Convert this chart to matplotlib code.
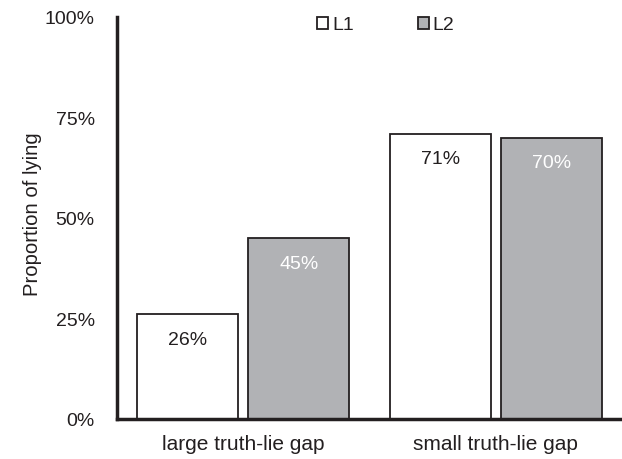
import matplotlib
matplotlib.use("Agg")
import matplotlib.pyplot as plt
import numpy as np

plt.rcParams['font.family'] = ['Liberation Sans', 'DejaVu Sans']

categories = ["large truth-lie gap", "small truth-lie gap"]
series_names = ["L1", "L2"]
l1_values = [26, 71]
l2_values = [45, 70]
yticks = [0, 25, 50, 75, 100]
ytick_labels = ["0%", "25%", "50%", "75%", "100%"]

edge = "#231f20"
gray = "#b1b2b5"
txt = "#231f20"
fs = 14

fig = plt.figure(figsize=(6.22, 4.60), dpi=100)
ax = fig.add_axes([117/622, 40/460, 505/622, 402/460])

x = np.arange(len(categories))
w = 0.40
gap = 0.04
b1 = ax.bar(x - (w + gap)/2, l1_values, w, color="white", edgecolor=edge, linewidth=1.3, label=series_names[0])
b2 = ax.bar(x + (w + gap)/2, l2_values, w, color=gray, edgecolor=edge, linewidth=1.3, label=series_names[1])

for rect, v in zip(b1, l1_values):
    ax.annotate(f"{v}%", (rect.get_x() + rect.get_width()/2, v), xytext=(0, -25),
                textcoords="offset pixels", ha="center", va="center", fontsize=fs, color=txt)
for rect, v in zip(b2, l2_values):
    ax.annotate(f"{v}%", (rect.get_x() + rect.get_width()/2, v), xytext=(0, -25),
                textcoords="offset pixels", ha="center", va="center", fontsize=fs, color="white")

ax.set_xlim(-0.5, 1.5)
ax.set_ylim(0, 100)
ax.set_yticks(yticks)
ax.set_yticklabels(ytick_labels, fontsize=fs, color=txt)
ax.set_xticks(x)
ax.set_xticklabels(categories, fontsize=15, color=txt)
ax.tick_params(axis="x", length=0, pad=11)
ax.tick_params(axis="y", length=0, pad=16)
ax.set_ylabel("Proportion of lying", fontsize=14.6, color=txt, labelpad=3)
ax.yaxis.set_label_coords(-0.149, 0.511)

for s in ["top", "right"]:
    ax.spines[s].set_visible(False)
for s in ["left", "bottom"]:
    ax.spines[s].set_linewidth(2.5)
    ax.spines[s].set_color(edge)

handles = [b1, b2]
leg = fig.legend(handles, series_names, loc="center left",
                 bbox_to_anchor=(317/622, (460-26)/460), bbox_transform=fig.transFigure,
                 ncol=2, frameon=False, fontsize=fs, borderpad=0, borderaxespad=0,
                 handlelength=0.57, handleheight=0.57, handletextpad=0.2,
                 columnspacing=3.3)
for t in leg.get_texts():
    t.set_color(txt)

fig.savefig("out.png", dpi=100)
